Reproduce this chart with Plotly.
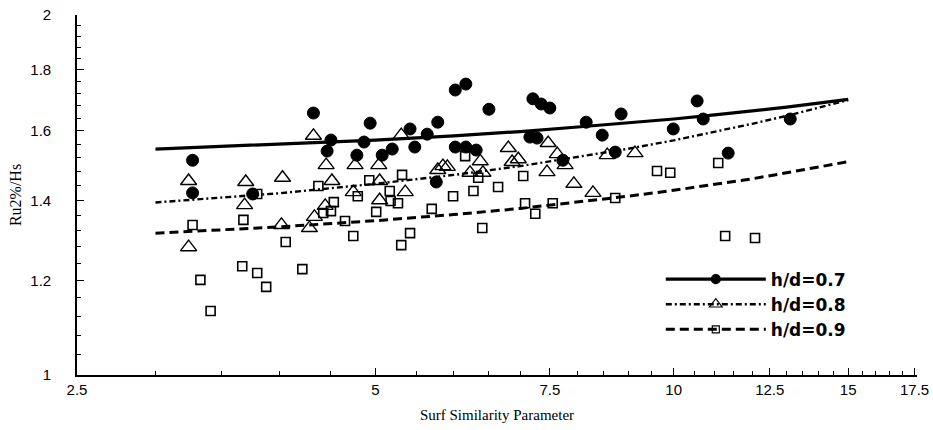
import plotly.graph_objects as go

# ---------------- data ----------------
x_07 = [3.27, 3.27, 3.76, 4.33, 4.51, 4.47, 4.87, 4.94, 4.79, 5.08, 5.20, 5.42, 5.48,
        5.64, 5.78, 5.76, 6.02, 6.17, 6.51, 6.02, 6.17, 6.32, 7.16, 7.28, 7.21, 7.35,
        7.50, 7.73, 8.16, 8.47, 8.85, 8.73, 9.99, 10.56, 10.71, 11.35, 13.11]
y_07 = [1.512, 1.420, 1.417, 1.656, 1.572, 1.539, 1.566, 1.624, 1.527, 1.527, 1.545, 1.606, 1.551,
        1.590, 1.627, 1.450, 1.731, 1.751, 1.668, 1.551, 1.551, 1.542, 1.581, 1.578, 1.702, 1.685,
        1.672, 1.512, 1.627, 1.587, 1.653, 1.536, 1.606, 1.695, 1.637, 1.533, 1.637]

x_08 = [3.24, 3.24, 3.70, 3.69, 4.03, 4.02, 4.29, 4.34, 4.33, 4.45, 4.46, 4.52, 4.75, 4.77,
        5.04, 5.05, 5.05, 5.31, 5.36, 5.78, 5.85, 5.91, 6.23, 6.42, 6.38, 6.81, 6.87, 6.97,
        7.45, 7.47, 7.63, 7.77, 7.93, 8.29, 8.57, 9.14]
y_08 = [1.453, 1.279, 1.450, 1.387, 1.462, 1.335, 1.327, 1.356, 1.585, 1.385, 1.498, 1.453, 1.422, 1.498,
        1.498, 1.453, 1.400, 1.587, 1.422, 1.484, 1.495, 1.493, 1.476, 1.476, 1.509, 1.548, 1.507, 1.515,
        1.478, 1.563, 1.530, 1.498, 1.445, 1.420, 1.527, 1.533]

x_09 = [3.27, 3.33, 3.41, 3.68, 3.67, 3.80, 3.88, 3.80, 4.06, 4.22, 4.38, 4.43, 4.51, 4.54,
        4.66, 4.75, 4.80, 4.93, 5.01, 5.17, 5.18, 5.27, 5.31, 5.32, 5.42, 5.70, 5.99, 6.16,
        6.28, 6.35, 6.41, 6.65, 7.05, 7.08, 7.25, 7.55, 8.73, 9.62, 9.92, 11.09, 11.27, 12.08]
y_09 = [1.335, 1.201, 1.131, 1.348, 1.233, 1.217, 1.185, 1.417, 1.292, 1.226, 1.439, 1.366, 1.371, 1.395,
        1.345, 1.307, 1.411, 1.455, 1.369, 1.425, 1.398, 1.392, 1.284, 1.470, 1.314, 1.377, 1.411, 1.524,
        1.425, 1.462, 1.327, 1.436, 1.467, 1.392, 1.364, 1.392, 1.406, 1.481, 1.476, 1.504, 1.307, 1.302]

fit_x = [3, 4, 5, 6, 7, 8, 9, 10, 11, 12, 13, 14, 15]
fit_07 = [1.545, 1.560, 1.572, 1.585, 1.598, 1.612, 1.624, 1.637, 1.650, 1.662, 1.675, 1.688, 1.700]
fit_08 = [1.394, 1.419, 1.445, 1.470, 1.495, 1.521, 1.546, 1.571, 1.597, 1.622, 1.647, 1.673, 1.698]
fit_09 = [1.314, 1.330, 1.346, 1.362, 1.378, 1.395, 1.411, 1.427, 1.443, 1.459, 1.476, 1.492, 1.508]

series_names = ["h/d=0.7", "h/d=0.8", "h/d=0.9"]

x_tick_vals = [2.5, 5, 7.5, 10, 12.5, 15, 17.5]
x_tick_text = ["2.5", "5", "7.5", "10", "12.5", "15", "17.5"]
y_tick_vals = [1, 1.2, 1.4, 1.6, 1.8, 2]
y_tick_text = ["1", "1.2", "1.4", "1.6", "1.8", "2"]
x_minor_vals = [3, 3.5, 4, 4.5, 5.5, 6, 6.5, 7, 8, 8.5, 9, 9.5, 10.5, 11, 11.5, 12,
                13, 13.5, 14, 14.5, 15.5, 16, 16.5, 17]
y_minor_vals = [1.04, 1.08, 1.12, 1.16, 1.24, 1.28, 1.32, 1.36, 1.44, 1.48, 1.52, 1.56,
                1.64, 1.68, 1.72, 1.76, 1.84, 1.88, 1.92, 1.96]

# ---------------- styles ----------------
styles = [
    dict(symbol="circle", size=12, color="black", line=dict(color="black", width=1),
         dash="solid", lw=3.2),
    dict(symbol="triangle-up-open", size=14, color="black", line=dict(color="black", width=1.4),
         dash="6px,3px,2px,3px", lw=2.4),
    dict(symbol="square-open", size=9, color="black", line=dict(color="black", width=1.6),
         dash="9px,5px", lw=3),
]

fig = go.Figure()

pts = [(x_07, y_07), (x_08, y_08), (x_09, y_09)]
fits = [fit_07, fit_08, fit_09]

for (xs, ys), st in zip(pts, styles):
    fig.add_trace(go.Scatter(
        x=xs, y=ys, mode="markers", showlegend=False,
        marker=dict(symbol=st["symbol"], size=st["size"], color=st["color"], line=st["line"]),
        hoverinfo="x+y"))

for fy, st in zip(fits, styles):
    fig.add_trace(go.Scatter(
        x=fit_x, y=fy, mode="lines", showlegend=False,
        line=dict(color="black", width=st["lw"], dash=st["dash"]), hoverinfo="skip"))

leg_sizes = [9, 11, 7]
for name, st, ls in zip(series_names, styles, leg_sizes):
    fig.add_trace(go.Scatter(
        x=[None], y=[None], mode="lines+markers", name="<b>" + name + "</b>",
        line=dict(color="black", width=st["lw"], dash=st["dash"]),
        marker=dict(symbol=st["symbol"], size=ls, color="black", line=dict(color="black", width=1.2))))

axis_font = dict(family="Arial, Liberation Sans", size=15, color="black")
title_font = dict(family="Liberation Serif, Times New Roman", size=15, color="black")
pad = "\u00a0\u00a0\u00a0\u00a0\u00a0"

fig.update_xaxes(
    type="log", range=[0.39794, 1.2455],
    showline=True, linecolor="black", linewidth=2, mirror=False,
    showgrid=False, zeroline=False,
    tickmode="array", tickvals=x_tick_vals, ticktext=x_tick_text,
    ticks="inside", ticklen=7, tickwidth=1.3, tickcolor="black",
    tickfont=axis_font,
    minor=dict(tickmode="array", tickvals=x_minor_vals, ticks="inside", ticklen=4,
               tickwidth=1.2, tickcolor="black", showgrid=False),
    title=dict(text="Surf Similarity Parameter", font=title_font, standoff=12),
)
fig.update_yaxes(
    type="log", range=[0, 0.30103],
    showline=True, linecolor="black", linewidth=2, mirror=False,
    showgrid=False, zeroline=False,
    tickmode="array", tickvals=y_tick_vals, ticktext=[t + pad for t in y_tick_text],
    ticks="inside", ticklen=7, tickwidth=1.3, tickcolor="black",
    tickfont=axis_font,
    minor=dict(tickmode="array", tickvals=y_minor_vals, ticks="inside", ticklen=4,
               tickwidth=1.2, tickcolor="black", showgrid=False),
    title=dict(text="Ru2%/Hs", font=dict(family="Liberation Serif, Times New Roman", size=16,
                                            color="black"), standoff=5),
)

fig.update_layout(
    width=933, height=430,
    margin=dict(l=77, r=16, t=15, b=55, autoexpand=False),
    paper_bgcolor="white", plot_bgcolor="white",
    showlegend=True,
    legend=dict(x=0.695, y=0.315, xanchor="left", yanchor="top",
                bgcolor="rgba(0,0,0,0)", borderwidth=0,
                font=dict(family="DejaVu Sans", size=17, color="black"),
                itemwidth=100, tracegroupgap=0),
)

fig.write_html("out.html")
